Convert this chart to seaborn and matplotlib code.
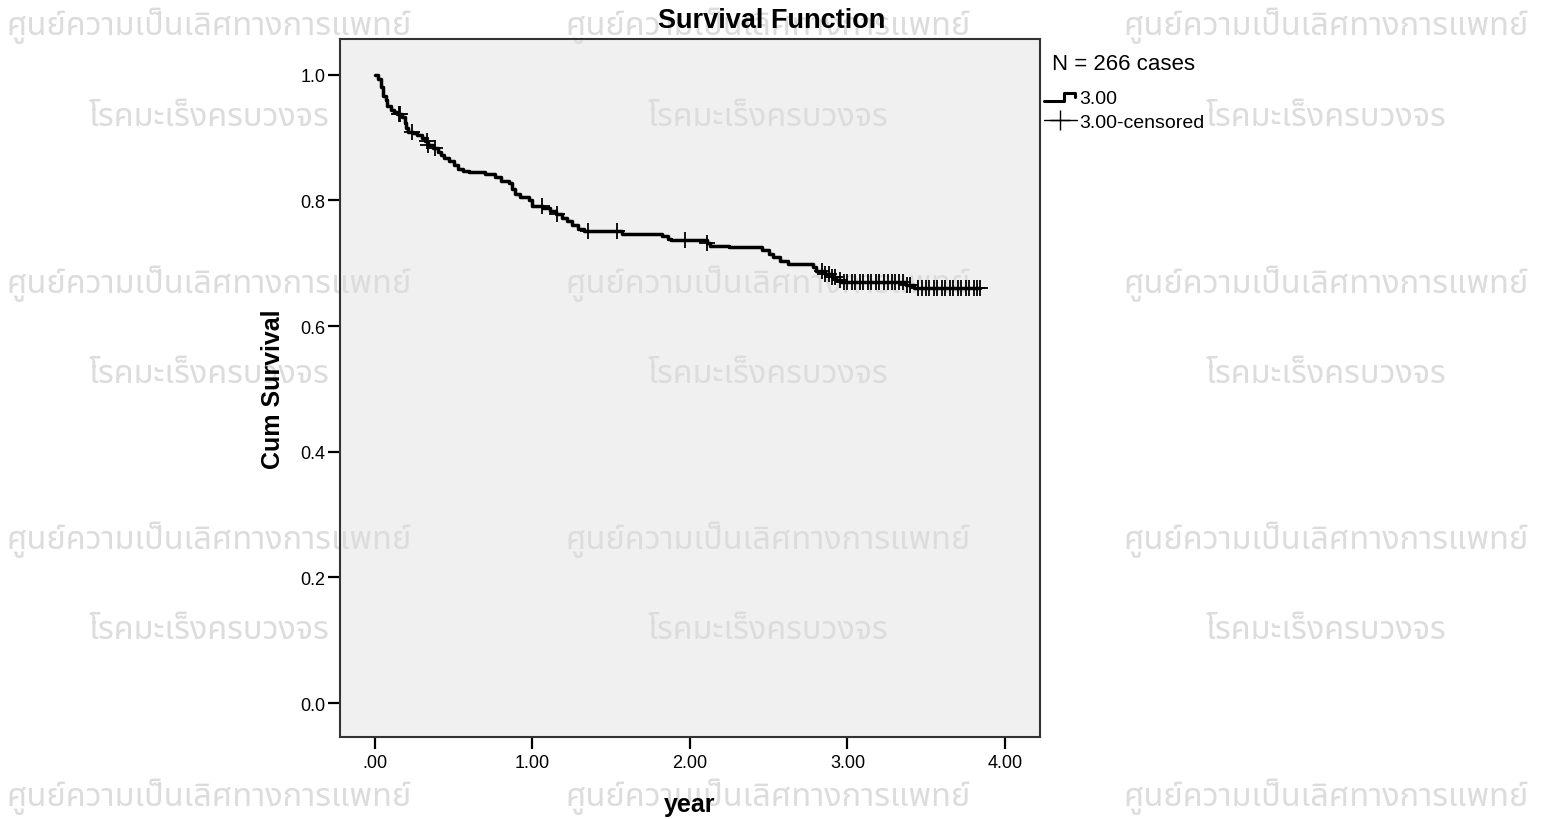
import numpy as np
import pandas as pd
import matplotlib
matplotlib.use("Agg")
import matplotlib.pyplot as plt
from matplotlib.lines import Line2D
from matplotlib.legend_handler import HandlerBase
import seaborn as sns

# Kaplan-Meier steps (year, cumulative survival after the drop)
step_time = [0.00, 0.02, 0.04, 0.05, 0.07, 0.08, 0.10, 0.12, 0.14, 0.17, 0.19, 0.20,
             0.21, 0.24, 0.27, 0.30, 0.32, 0.34, 0.37, 0.40, 0.42, 0.44, 0.47, 0.50,
             0.53, 0.56, 0.60, 0.70, 0.76, 0.80, 0.85, 0.87, 0.89, 0.92, 0.98, 1.00,
             1.07, 1.11, 1.15, 1.19, 1.22, 1.25, 1.29, 1.33, 1.57, 1.82, 1.86, 1.88,
             2.11, 2.13, 2.25, 2.46, 2.50, 2.53, 2.57, 2.62, 2.78, 2.80, 2.86, 2.90,
             2.93, 2.96, 3.37, 3.42]
step_surv = [1.000, 0.994, 0.981, 0.967, 0.960, 0.951, 0.944, 0.941, 0.938, 0.933, 0.924, 0.916,
             0.909, 0.908, 0.904, 0.900, 0.895, 0.889, 0.884, 0.877, 0.873, 0.868, 0.863, 0.857,
             0.850, 0.847, 0.846, 0.842, 0.838, 0.831, 0.828, 0.818, 0.811, 0.806, 0.801, 0.791,
             0.788, 0.783, 0.779, 0.772, 0.768, 0.761, 0.755, 0.752, 0.747, 0.744, 0.739, 0.737,
             0.732, 0.728, 0.726, 0.721, 0.715, 0.710, 0.704, 0.699, 0.694, 0.688, 0.683, 0.678,
             0.674, 0.670, 0.666, 0.661]

# censored observations (year)
censor_time = [0.15, 0.16, 0.235, 0.33, 0.34, 0.38, 1.06, 1.155, 1.35, 1.54, 1.97, 2.11,
               2.84, 2.86, 2.88, 2.90, 2.92, 2.95, 2.98, 3.00, 3.03, 3.05, 3.08, 3.10,
               3.13, 3.15, 3.18, 3.20, 3.23, 3.26, 3.28, 3.30, 3.33, 3.35, 3.38, 3.40,
               3.45, 3.47, 3.50, 3.52, 3.55, 3.57, 3.60, 3.62, 3.65, 3.67, 3.70, 3.72,
               3.75, 3.77, 3.80, 3.82, 3.84]

x_ticks = [0, 1, 2, 3, 4]
x_tick_labels = [".00", "1.00", "2.00", "3.00", "4.00"]
y_ticks = [0.0, 0.2, 0.4, 0.6, 0.8, 1.0]
y_tick_labels = ["0.0", "0.2", "0.4", "0.6", "0.8", "1.0"]

n_cases = 266
watermark_1 = "ศูนย์ความเป็นเลิศทางการแพทย์"
watermark_2 = "โรคมะเร็งครบวงจร"


class StepHandler(HandlerBase):
    # little step glyph like the SPSS legend
    def create_artists(self, legend, orig_handle, xdescent, ydescent, width, height,
                       fontsize, trans):
        lo, hi = 0.15 * height, 0.75 * height
        xs = [0, 0.62 * width, 0.62 * width, 0.95 * width, 0.95 * width]
        ys = [lo, lo, hi, hi, 0.45 * height]
        ln = Line2D(xs, ys, color="black", linewidth=2.2, transform=trans)
        return [ln]


sns.set_style("white")
plt.rcParams["font.family"] = ["Liberation Sans", "DejaVu Sans"]
plt.rcParams["text.color"] = "black"
plt.rcParams["axes.labelcolor"] = "black"

steps = pd.DataFrame({"year": step_time + [censor_time[-1]],
                      "surv": step_surv + [step_surv[-1]]})
st = np.array(step_time)
sv = np.array(step_surv)
idx = np.searchsorted(st, np.array(censor_time), side="right") - 1
censored = pd.DataFrame({"year": censor_time, "surv": sv[idx]})

fig = plt.figure(figsize=(15.43, 8.2), dpi=100)
ax = fig.add_axes([0.2203, 0.1, 0.4537, 0.8512])
ax.set_facecolor("#f0f0f0")

sns.lineplot(data=steps, x="year", y="surv", drawstyle="steps-post", estimator=None,
             color="black", linewidth=2.5, ax=ax, zorder=3)
sns.scatterplot(data=censored, x="year", y="surv", marker="+", s=120, color="black",
                linewidth=1.3, ax=ax, zorder=3)

ax.set_xlim(-0.222, 4.222)
ax.set_ylim(-0.054, 1.057)
ax.set_xticks(x_ticks)
ax.set_xticklabels(x_tick_labels)
ax.set_yticks(y_ticks)
ax.set_yticklabels(y_tick_labels)
ax.tick_params(bottom=True, left=True, direction="out", length=8.5, width=1.6,
               labelsize=13, colors="black", pad=2)
ax.tick_params(axis="x", pad=4)
ax.set_xlabel("year", fontsize=18, fontweight="bold", labelpad=15)
ax.set_ylabel("Cum Survival", fontsize=18, fontweight="bold", labelpad=11)
for sp in ax.spines.values():
    sp.set_color("#333333")
    sp.set_linewidth(1.5)

fig.suptitle("Survival Function", fontsize=19.5, fontweight="bold", y=0.99)

fig.text(1052 / 1543, 1 - 65 / 820, "N = %d cases" % n_cases, fontsize=16, va="center")
handles = [Line2D([], [], color="black", linewidth=2.2),
           Line2D([], [], color="black", linewidth=1.0, marker="+", markersize=15)]
ax.legend(handles, ["3.00", "3.00-censored"], loc="upper left",
          bbox_to_anchor=(1040 / 1543, 1 - 87 / 820), bbox_transform=fig.transFigure,
          frameon=False, fontsize=14, handlelength=1.7, handletextpad=0.1,
          labelspacing=0.3, borderaxespad=0.0, borderpad=0.2,
          handler_map={handles[0]: StepHandler()})

# watermarks: above the grey plot background, below the axis labels and the curve
wm_font = ["Noto Sans Thai", "DejaVu Sans"]
wm_x = [209, 768, 1326]
for yy in [26, 284, 540, 797]:
    for xx in wm_x:
        ax.text(xx / 1543, 1 - yy / 820, watermark_1, transform=fig.transFigure,
                ha="center", va="center", fontsize=23.4, color="#dcdcdc",
                family=wm_font, fontweight="light", clip_on=False, zorder=0.2)
for yy in [118, 375, 631]:
    for xx in wm_x:
        ax.text(xx / 1543, 1 - yy / 820, watermark_2, transform=fig.transFigure,
                ha="center", va="center", fontsize=23.4, color="#dcdcdc",
                family=wm_font, fontweight="light", clip_on=False, zorder=0.2)

fig.savefig("out.png", dpi=100)
